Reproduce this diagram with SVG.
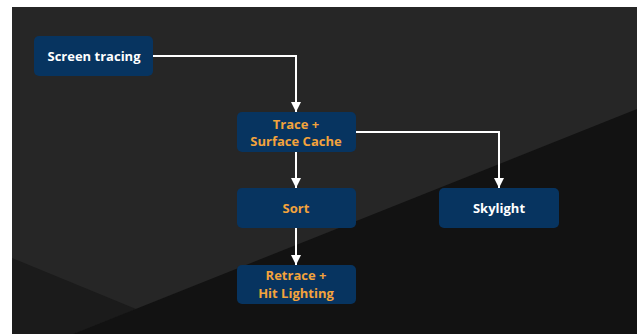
<svg xmlns="http://www.w3.org/2000/svg" width="638" height="334" viewBox="0 0 638 334">
  <defs>
    <style>
      .box { fill: #073460; }
      .t { font-family: "Open Sans", "Liberation Sans", sans-serif; font-weight: 700; font-size: 13px; text-anchor: middle; }
      .w { fill: #ffffff; }
      .o { fill: #f3a33c; }
      .c { fill: none; stroke: #ffffff; stroke-width: 2; }
    </style>
    <marker id="arr" viewBox="0 0 10 12" refX="10" refY="6" markerWidth="10" markerHeight="12" markerUnits="userSpaceOnUse" orient="auto">
      <path d="M0,1 L10,6 L0,11 Z" fill="#ffffff"/>
    </marker>
  </defs>
  <rect x="0" y="0" width="638" height="334" fill="#ffffff"/>
  <rect x="12" y="7" width="625" height="327" fill="#262626"/>
  <polygon points="12,258 136,309 73,334 12,334" fill="#1b1b1b"/>
  <polygon points="73,334 637,109 637,334" fill="#121212"/>

  <g id="connectors">
    <path class="c" d="M153,56 H296 V112" marker-end="url(#arr)"/>
    <path class="c" d="M296,152 V188" marker-end="url(#arr)"/>
    <path class="c" d="M296,228 V265" marker-end="url(#arr)"/>
    <path class="c" d="M356,132 H499 V188" marker-end="url(#arr)"/>
  </g>

  <g id="screen-tracing">
    <rect class="box" x="34" y="36" width="119" height="40" rx="5"/>
    <text class="t w" x="94" y="61">Screen tracing</text>
  </g>
  <g id="trace-surface-cache">
    <rect class="box" x="237" y="112" width="119" height="40" rx="5"/>
    <text class="t o" x="296" y="129">Trace +</text>
    <text class="t o" x="296" y="146">Surface Cache</text>
  </g>
  <g id="sort">
    <rect class="box" x="237" y="188" width="119" height="40" rx="5"/>
    <text class="t o" x="296" y="213">Sort</text>
  </g>
  <g id="skylight">
    <rect class="box" x="439" y="188" width="120" height="40" rx="5"/>
    <text class="t w" x="499" y="213">Skylight</text>
  </g>
  <g id="retrace-hit-lighting">
    <rect class="box" x="237" y="265" width="119" height="39" rx="5"/>
    <text class="t o" x="296" y="280">Retrace +</text>
    <text class="t o" x="296" y="298">Hit Lighting</text>
  </g>
</svg>
